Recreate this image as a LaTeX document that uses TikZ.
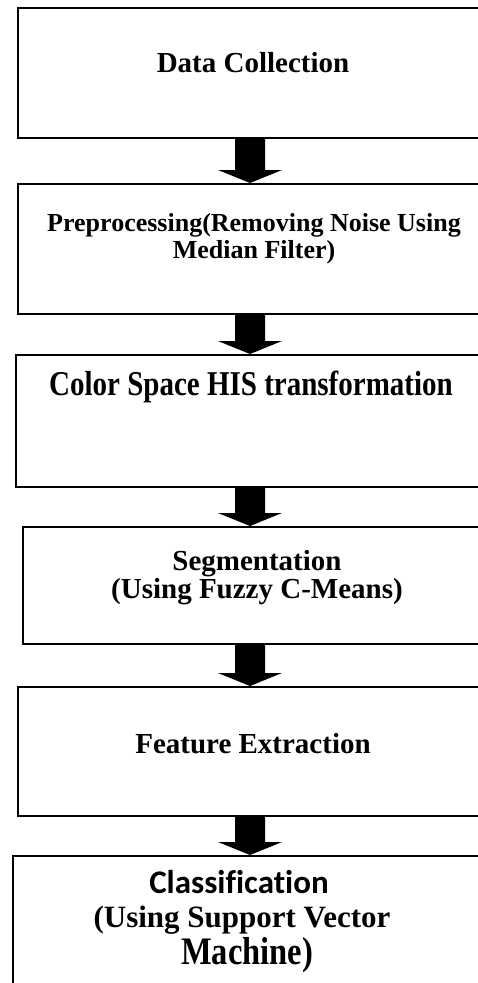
\documentclass[tikz,border=0pt]{standalone}
\usepackage{fontspec}
\setmainfont{Liberation Serif}
\newfontfamily\calfont[Ligatures={NoCommon,NoRequired,NoContextual}]{Carlito}
\usetikzlibrary{calc}
\tikzset{
  box/.style={draw=black, line width=2pt, rectangle, anchor=north west, inner sep=0pt},
  lbl/.style={anchor=base, inner sep=0pt, font=\bfseries, align=center},
  tight/.style={text height=0.62em, text depth=0.05em},
}
\newcommand\flowarrow[2]{%
  \fill let \p1=(#1), \p2=(#2) in
    (\x1-15pt,\y1) -- (\x1+15pt,\y1) -- (\x1+15pt,\y2+13pt) -- (\x1+32pt,\y2+13pt)
    -- (\x1,\y2) -- (\x1-32pt,\y2+13pt) -- (\x1-15pt,\y2+13pt) -- cycle;}
\begin{document}
\begin{tikzpicture}[x=1pt,y=-1pt]
\useasboundingbox (0,0) rectangle (478,983);
\clip (0,0) rectangle (478,983);
\fill[white] (0,0) rectangle (478,983);
\coordinate (ax) at (250,0);
% boxes
\node[box, minimum width=473pt, minimum height=130pt] (b1) at (17,7) {};
\node[box, minimum width=473pt, minimum height=130pt] (b2) at (17,183) {};
\node[box, minimum width=475pt, minimum height=132pt] (b3) at (15,354) {};
\node[box, minimum width=470pt, minimum height=117pt] (b4) at (22,526) {};
\node[box, minimum width=473pt, minimum height=129pt] (b5) at (17,686) {};
\node[box, minimum width=475pt, minimum height=160pt] (b6) at (12,855) {};
% texts
\node[lbl, font=\bfseries\fontsize{29}{31}\selectfont] (t1) at (253,72) {Data Collection};
\node[lbl, tight, font=\bfseries\fontsize{26}{27}\selectfont] (t2a) at (254,231) {Preprocessing(Removing Noise Using};
\node[lbl, tight, font=\bfseries\fontsize{26}{27}\selectfont] (t2b) at (254,258) {Median Filter)};
\node[lbl] (t3) at (251,395) {\scalebox{1}[1.2]{\fontsize{29}{31}\selectfont Color Space HIS transformation}};
\node[lbl, tight, font=\bfseries\fontsize{29}{31}\selectfont] (t4a) at (257,570) {Segmentation};
\node[lbl, tight, font=\bfseries\fontsize{29}{31}\selectfont] (t4b) at (257,598) {(Using Fuzzy C-Means)};
\node[lbl, font=\bfseries\fontsize{29}{31}\selectfont] (t5) at (253,753) {Feature Extraction};
\node[lbl, tight, font=\calfont\bfseries\fontsize{33}{35}\selectfont] (t6a) at (239,893) {Classification};
\node[lbl, tight, font=\bfseries\fontsize{31}{33}\selectfont] (t6b) at (242,927) {(Using Support Vector};
\node[lbl, tight] (t6c) at (247,964) {\scalebox{1}[1.2]{\fontsize{32.5}{34}\selectfont Machine)}};
% arrows
\flowarrow{b1.south -| ax}{b2.north -| ax}
\flowarrow{b2.south -| ax}{b3.north -| ax}
\flowarrow{b3.south -| ax}{b4.north -| ax}
\flowarrow{b4.south -| ax}{b5.north -| ax}
\flowarrow{b5.south -| ax}{b6.north -| ax}
\end{tikzpicture}
\end{document}
